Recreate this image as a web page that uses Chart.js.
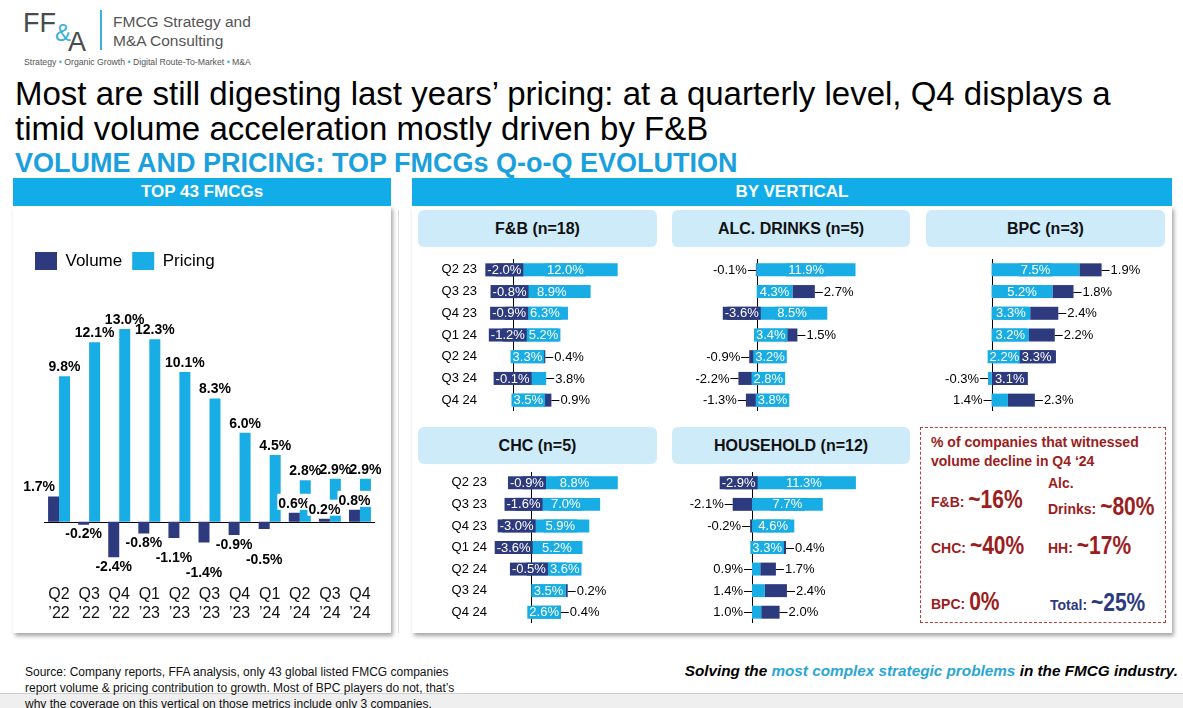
<!DOCTYPE html>
<html>
<head>
<meta charset="utf-8">
<script src="https://cdn.jsdelivr.net/npm/chart.js@4.4.1/dist/chart.umd.min.js"></script>
<style>
  html, body { margin: 0; padding: 0; }
  body {
    width: 1183px; height: 708px; position: relative; overflow: hidden;
    background: #fff; font-family: "Liberation Sans", Arial, sans-serif; color: #000;
  }
  .abs { position: absolute; }
  .logo { color: #4a4a4a; line-height: 1; }
  .title { left: 15px; top: 76px; font-size: 33px; line-height: 35px; white-space: nowrap; }
  .subtitle { left: 15px; top: 147px; font-size: 27px; line-height: 32px; font-weight: bold; color: #1AA0DC; white-space: nowrap; }
  .head { background: #12ADE8; color: #fff; font-weight: bold; font-size: 17px; text-align: center; line-height: 28px; height: 28px; }
  .panel { background: #fff; box-shadow: 2px 3px 4px rgba(0,0,0,0.35); }
  .sub { background: #CDEBF9; border-radius: 6px; height: 37px; line-height: 37px; text-align: center; font-weight: bold; font-size: 16px; color: #111; }
  .box { left: 920px; top: 427px; width: 244px; height: 194px; border: 1.5px dashed #B5403F; }
  .red { color: #9B1D20; font-weight: bold; font-size: 14px; }
  .big { font-family: "Liberation Sans Narrow", "Liberation Sans", Arial, sans-serif; font-weight: bold; font-size: 21px; display: inline-block; transform: scaleY(1.2); }
  .row { line-height: 24px; white-space: nowrap; }
  .navy { color: #2E3A7E; }
  .wrap { position: absolute; }
</style>
</head>
<body>

<!-- header / logo -->
<div class="abs logo" style="left:23px;top:10px;font-size:27px;">FF</div>
<div class="abs" style="left:55px;top:21px;font-size:24px;line-height:24px;color:#3BB0D8;">&amp;</div>
<div class="abs logo" style="left:68px;top:29px;font-size:27px;">A</div>
<div class="abs" style="left:100px;top:10px;width:1.5px;height:40px;background:#3BB0D8;"></div>
<div class="abs" style="left:113px;top:12px;font-size:15.5px;line-height:19px;color:#555;">FMCG Strategy and<br>M&amp;A Consulting</div>
<div class="abs" style="left:24px;top:57px;font-size:8.7px;color:#555;white-space:nowrap;">Strategy <span style="color:#3BB0D8">&bull;</span> Organic Growth <span style="color:#3BB0D8">&bull;</span> Digital Route-To-Market <span style="color:#3BB0D8">&bull;</span> M&amp;A</div>

<div class="abs title">Most are still digesting last years’ pricing: at a quarterly level, Q4 displays a<br>timid volume acceleration mostly driven by F&amp;B</div>
<div class="abs subtitle">VOLUME AND PRICING: TOP FMCGs Q-o-Q EVOLUTION</div>

<!-- panels -->
<div class="abs panel" style="left:13px;top:206px;width:378px;height:427px;"></div>
<div class="abs head" style="left:13px;top:178px;width:378px;">TOP 43 FMCGs</div>
<div class="abs" style="left:398px;top:210px;width:1px;height:423px;background:#dcdcdc;"></div>
<div class="abs panel" style="left:412px;top:206px;width:760px;height:427px;"></div>
<div class="abs head" style="left:412px;top:178px;width:760px;">BY VERTICAL</div>

<div class="abs sub" style="left:418px;top:210px;width:239px;">F&amp;B (n=18)</div>
<div class="abs sub" style="left:672px;top:210px;width:238px;">ALC. DRINKS (n=5)</div>
<div class="abs sub" style="left:926px;top:210px;width:239px;">BPC (n=3)</div>
<div class="abs sub" style="left:418px;top:427px;width:239px;">CHC (n=5)</div>
<div class="abs sub" style="left:672px;top:427px;width:238px;">HOUSEHOLD (n=12)</div>

<!-- charts -->
<div class="wrap" style="left:13px;top:242px;width:378px;height:387px;"><canvas id="totalChart"></canvas></div>
<div class="wrap" style="left:418px;top:259px;width:245px;height:152px;"><canvas id="fbChart"></canvas></div>
<div class="wrap" style="left:672px;top:259px;width:240px;height:152px;"><canvas id="alcChart"></canvas></div>
<div class="wrap" style="left:926px;top:259px;width:240px;height:152px;"><canvas id="bpcChart"></canvas></div>
<div class="wrap" style="left:418px;top:472px;width:245px;height:151px;"><canvas id="chcChart"></canvas></div>
<div class="wrap" style="left:672px;top:472px;width:240px;height:151px;"><canvas id="hhChart"></canvas></div>

<!-- callout -->
<div class="abs box"></div>
<div class="abs red" style="left:931px;top:433px;line-height:19px;white-space:nowrap;">% of companies that witnessed<br>volume decline in Q4 ‘24</div>
<div class="abs red row" style="left:931px;top:488px;">F&amp;B: <span class="big">~16%</span></div>
<div class="abs red" style="left:1048px;top:475px;line-height:16px;">Alc.</div>
<div class="abs red row" style="left:1048px;top:495px;">Drinks: <span class="big">~80%</span></div>
<div class="abs red row" style="left:931px;top:534px;">CHC: <span class="big">~40%</span></div>
<div class="abs red row" style="left:1048px;top:534px;">HH: <span class="big">~17%</span></div>
<div class="abs red row" style="left:931px;top:590px;">BPC: <span class="big">0%</span></div>
<div class="abs red row navy" style="left:1050px;top:591px;">Total: <span class="big">~25%</span></div>

<!-- footer -->
<div class="abs" style="left:0;top:693px;width:1183px;height:15px;background:#EFEFEF;border-top:1px solid #cfcfcf;"></div>
<div class="abs" style="left:25px;top:664px;font-size:12px;line-height:16px;color:#111;white-space:nowrap;">Source: Company reports, FFA analysis, only 43 global listed FMCG companies<br>report volume &amp; pricing contribution to growth. Most of BPC players do not, that’s<br>why the coverage on this vertical on those metrics include only 3 companies.</div>
<div class="abs" style="right:5px;top:662px;font-size:15.3px;font-weight:bold;font-style:italic;white-space:nowrap;">Solving the <span style="color:#2AA6D6">most complex strategic problems</span> in the FMCG industry.</div>

<script>
// ---------- data ----------
const quarters = [
  ["Q2", "’22"], ["Q3", "’22"], ["Q4", "’22"], ["Q1", "’23"], ["Q2", "’23"], ["Q3", "’23"],
  ["Q4", "’23"], ["Q1", "’24"], ["Q2", "’24"], ["Q3", "’24"], ["Q4", "’24"]
];
const totalVolume = [1.7, -0.2, -2.4, -0.8, -1.1, -1.4, -0.9, -0.5, 0.6, 0.2, 0.8];
const totalPricing = [9.8, 12.1, 13.0, 12.3, 10.1, 8.3, 6.0, 4.5, 2.8, 2.9, 2.9];

const verticalQuarters = ["Q2 23", "Q3 23", "Q4 23", "Q1 24", "Q2 24", "Q3 24", "Q4 24"];
const fbVolume = [-2.0, -0.8, -0.9, -1.2, 0.4, -0.1, 0.9];
const fbPricing = [12.0, 8.9, 6.3, 5.2, 3.3, 3.8, 3.5];
const alcVolume = [-0.1, 2.7, -3.6, 1.5, -0.9, -2.2, -1.3];
const alcPricing = [11.9, 4.3, 8.5, 3.4, 3.2, 2.8, 3.8];
const bpcVolume = [1.9, 1.8, 2.4, 2.2, 3.3, 3.1, 2.3];
const bpcPricing = [7.5, 5.2, 3.3, 3.2, 2.2, -0.3, 1.4];
const chcVolume = [-0.9, -1.6, -3.0, -3.6, -0.5, 0.2, 0.4];
const chcPricing = [8.8, 7.0, 5.9, 5.2, 3.6, 3.5, 2.6];
const hhVolume = [-2.9, -2.1, -0.2, 0.4, 1.7, 2.4, 2.0];
const hhPricing = [11.3, 7.7, 4.6, 3.3, 0.9, 1.4, 1.0];

const NAVY = "#2E3A7E";
const LIGHT = "#19ADE5";

Chart.defaults.font.family = '"Liberation Sans", Arial, sans-serif';
Chart.defaults.color = "#000";
Chart.defaults.animation = false;

// ---------- plugins ----------
const pct = (v) => v.toFixed(1) + "%";

// labels + zero line for the big column chart
const totalLabels = {
  id: "totalLabels",
  beforeDatasetsDraw(chart) {
    const { ctx, chartArea, scales } = chart;
    const y0 = Math.round(scales.y.getPixelForValue(0)) + 0.5;
    ctx.save();
    ctx.strokeStyle = "#000";
    ctx.lineWidth = 1;
    ctx.beginPath();
    ctx.moveTo(chartArea.left, y0);
    ctx.lineTo(chartArea.right, y0);
    ctx.stroke();
    ctx.restore();
  },
  afterDatasetsDraw(chart) {
    const { ctx } = chart;
    const placed = []; // rects of negative labels, to stagger crowded ones
    ctx.save();
    ctx.font = 'bold 14px "Liberation Sans", Arial, sans-serif';
    ctx.textAlign = "center";
    chart.data.datasets.forEach((ds, di) => {
      chart.getDatasetMeta(di).data.forEach((bar, i) => {
        const v = ds.data[i];
        const text = pct(v);
        const tw = ctx.measureText(text).width;
        let x = bar.x;
        // small positive volume next to a tall pricing bar: keep it clear of the bar
        if (di === 0 && v > 0 && totalPricing[i] > 5) x = bar.x + bar.width / 2 - tw / 2 - 4;
        if (v >= 0) {
          ctx.textBaseline = "bottom";
          if (di === 0) {
            ctx.fillStyle = "#fff";
            ctx.fillRect(x - tw / 2 - 1, bar.y - 19, tw + 2, 16);
          }
          ctx.fillStyle = "#000";
          ctx.fillText(text, x, bar.y - 2);
        } else {
          let top = bar.y + 3;
          const l = x - tw / 2, r = x + tw / 2, h = 14;
          placed.forEach((p) => {
            if (l < p.r && r > p.l && top < p.b && top + h > p.t) top = p.b + 1;
          });
          placed.push({ l, r, t: top, b: top + h });
          ctx.textBaseline = "top";
          ctx.fillStyle = "#000";
          ctx.fillText(text, x, top);
        }
      });
    });
    ctx.restore();
  }
};

// labels + zero line for the stacked vertical charts
const verticalLabels = {
  id: "verticalLabels",
  beforeDatasetsDraw(chart) {
    const { ctx, chartArea, scales } = chart;
    const x0 = Math.round(scales.x.getPixelForValue(0)) + 0.5;
    ctx.save();
    ctx.strokeStyle = "#000";
    ctx.lineWidth = 1;
    ctx.beginPath();
    ctx.moveTo(x0, chartArea.top);
    ctx.lineTo(x0, chartArea.bottom);
    ctx.stroke();
    ctx.restore();
  },
  afterDatasetsDraw(chart) {
    const { ctx, scales, chartArea } = chart;
    const x0 = scales.x.getPixelForValue(0);
    const sets = chart.data.datasets;
    ctx.save();
    ctx.font = '13px "Liberation Sans", Arial, sans-serif';
    ctx.textBaseline = "middle";

    // work out where each label goes: boxed on the bar, or outside with a leader
    function place(di, i) {
      const bar = chart.getDatasetMeta(di).data[i];
      const v = sets[di].data[i];
      const text = pct(v);
      const tw = ctx.measureText(text).width;
      const left = Math.min(bar.x, bar.base);
      const right = Math.max(bar.x, bar.base);
      const w = right - left;
      const other = sets[1 - di].data[i];
      const outer = di === 1 && Math.sign(other) === Math.sign(v);
      let start, dir;
      if (v >= 0 && outer) { start = right; dir = 1; }
      else if (v < 0) { start = left; dir = -1; }
      else { start = x0; dir = -1; }
      let boxed;
      if (outer) boxed = w >= tw + 4;
      else boxed = w >= tw * 0.75 || start - 9 - tw < chartArea.left;
      const cx = (left + right) / 2;
      return { bar, v, text, tw, left, right, start, dir, boxed, color: sets[di].backgroundColor,
               bx: cx - tw / 2 - 2, bw: tw + 4 };
    }

    function draw(l) {
      const y = l.bar.y;
      if (l.boxed) {
        ctx.fillStyle = l.color;
        ctx.fillRect(l.bx, y - l.bar.height / 2, l.bw, l.bar.height);
        ctx.fillStyle = "#fff";
        ctx.textAlign = "center";
        ctx.fillText(l.text, l.bx + l.bw / 2, y + 0.5);
      } else {
        ctx.strokeStyle = "#000";
        ctx.lineWidth = 1;
        ctx.beginPath();
        ctx.moveTo(l.start, Math.round(y) + 0.5);
        ctx.lineTo(l.start + l.dir * 8, Math.round(y) + 0.5);
        ctx.stroke();
        ctx.fillStyle = "#000";
        ctx.textAlign = l.dir > 0 ? "left" : "right";
        ctx.fillText(l.text, l.start + l.dir * 9, y + 0.5);
      }
    }

    verticalQuarters.forEach((q, i) => {
      const p = place(0, i);
      const vol = place(1, i);
      // a negative volume box pushing into the pricing label: slide it along, or move it out
      if (p.boxed && vol.boxed && vol.v < 0 && p.v > 0 && vol.bx + vol.bw > p.bx) {
        const nx = vol.bx + vol.bw;
        if (nx + p.bw <= p.right + 16) {
          p.bx = nx;
        } else {
          p.boxed = false;
          p.start = p.right;
          p.dir = 1;
        }
      }
      draw(p);
      draw(vol);
    });
    ctx.restore();
  }
};

// ---------- TOP 43 chart ----------
new Chart(document.getElementById("totalChart"), {
  type: "bar",
  data: {
    labels: quarters,
    datasets: [
      { label: "Volume", data: totalVolume, backgroundColor: NAVY },
      { label: "Pricing", data: totalPricing, backgroundColor: LIGHT }
    ]
  },
  options: {
    responsive: true,
    maintainAspectRatio: false,
    layout: { padding: { left: 12, right: 16, top: 0, bottom: 0 } },
    datasets: { bar: { categoryPercentage: 0.73, barPercentage: 1.0 } },
    scales: {
      x: {
        grid: { display: false },
        border: { display: false },
        ticks: { font: { size: 16 }, color: "#111", padding: 6, maxRotation: 0, autoSkip: false }
      },
      y: {
        min: -3.3,
        max: 16.3,
        afterFit: (s) => { s.width = 19; },
        grid: { display: false },
        border: { display: false },
        ticks: { display: false }
      }
    },
    plugins: {
      legend: {
        position: "top",
        align: "start",
        labels: { boxWidth: 22, boxHeight: 18, padding: 10, font: { size: 17 }, color: "#000" }
      },
      tooltip: { enabled: false }
    }
  },
  plugins: [totalLabels]
});

// ---------- vertical charts ----------
function verticalChart(id, pricing, volume, min, max, axisWidth) {
  return new Chart(document.getElementById(id), {
    type: "bar",
    data: {
      labels: verticalQuarters,
      datasets: [
        { label: "Pricing", data: pricing, backgroundColor: LIGHT },
        { label: "Volume", data: volume, backgroundColor: NAVY }
      ]
    },
    options: {
      indexAxis: "y",
      responsive: true,
      maintainAspectRatio: false,
      layout: { padding: 0 },
      datasets: { bar: { categoryPercentage: 1.0, barPercentage: 0.6 } },
      scales: {
        x: { stacked: true, min: min, max: max, display: false },
        y: {
          stacked: true,
          display: axisWidth ? true : false,
          afterFit: (s) => {
            if (axisWidth) s.width = axisWidth;
            s.paddingTop = 0;
            s.paddingBottom = 0;
          },
          grid: { display: false, drawTicks: false },
          border: { display: false },
          ticks: { font: { size: 13 }, color: "#000", padding: 9 }
        }
      },
      plugins: { legend: { display: false }, tooltip: { enabled: false } }
    },
    plugins: [verticalLabels]
  });
}

verticalChart("fbChart", fbPricing, fbVolume, -3.1, 17.2, 68);
verticalChart("alcChart", alcPricing, alcVolume, -10.2, 18.7, 0);
verticalChart("bpcChart", bpcPricing, bpcVolume, -5.6, 14.9, 0);
verticalChart("chcChart", chcPricing, chcVolume, -3.6, 13.4, 78);
verticalChart("hhChart", hhPricing, hhVolume, -8.7, 17.4, 0);
</script>
</body>
</html>
